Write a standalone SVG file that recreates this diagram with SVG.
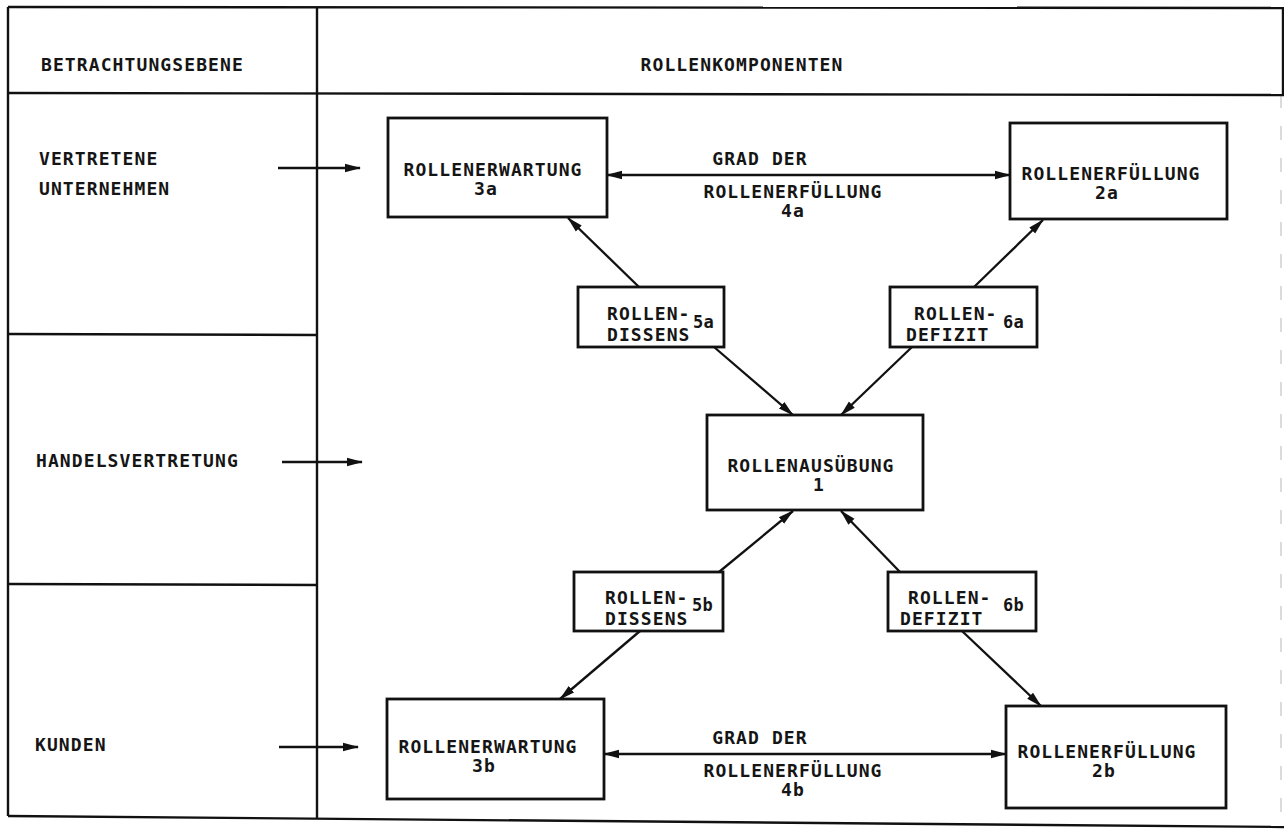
<svg xmlns="http://www.w3.org/2000/svg" width="1284" height="831" viewBox="0 0 1284 831">
<style>
text{font-family:"DejaVu Sans Mono","Liberation Mono",monospace;font-size:18px;font-weight:bold;letter-spacing:1.1px;fill:#151515}
.m{text-anchor:middle}
.sup{font-size:17px;letter-spacing:0.3px}
.box{fill:#fff;stroke:#111;stroke-width:2.8}
.frame{fill:none;stroke:#111;stroke-width:2.4}
.con{fill:none;stroke:#111;stroke-width:2.3}
</style>
<defs>
<marker id="ah" viewBox="0 0 16 10" refX="15" refY="5" markerWidth="16" markerHeight="10" markerUnits="userSpaceOnUse" orient="auto-start-reverse">
<path d="M0,0.8 L16,5 L0,9.2 z" fill="#111"/>
</marker>
</defs>
<g id="frame">
<path class="frame" d="M8,7 L1284,8"/>
<path class="frame" d="M1283,8 L1283,94"/>
<path d="M1281,94 L1281,826" fill="none" stroke="#c4c4c4" stroke-width="1.2" stroke-dasharray="14,18"/>
<path class="frame" d="M8,7 L8,816"/>
<path class="frame" d="M8,816 L1284,827"/>
<path class="frame" d="M317,7 L317,819"/>
<path class="frame" d="M8,93 L1284,95"/>
<path class="frame" d="M8,334 L317,335"/>
<path class="frame" d="M8,584 L317,585"/>
</g>
<g id="headers">
<text x="41" y="71">BETRACHTUNGSEBENE</text>
<text class="m" x="742" y="71">ROLLENKOMPONENTEN</text>
</g>
<g id="levels">
<text x="39" y="165">VERTRETENE</text>
<text x="39" y="195">UNTERNEHMEN</text>
<text x="36" y="467">HANDELSVERTRETUNG</text>
<text x="35" y="751">KUNDEN</text>
</g>
<g id="connectors">
<line class="con" x1="278" y1="168" x2="360" y2="168" marker-end="url(#ah)"/>
<line class="con" x1="282" y1="462" x2="362" y2="462" marker-end="url(#ah)"/>
<line class="con" x1="279" y1="747" x2="358" y2="747" marker-end="url(#ah)"/>
<line class="con" x1="607" y1="175" x2="1010" y2="175" marker-start="url(#ah)" marker-end="url(#ah)"/>
<line class="con" x1="604" y1="754" x2="1006" y2="754" marker-start="url(#ah)" marker-end="url(#ah)"/>
<line class="con" x1="639" y1="287" x2="568" y2="218" marker-end="url(#ah)"/>
<line class="con" x1="714" y1="347" x2="793" y2="415" marker-end="url(#ah)"/>
<line class="con" x1="912" y1="347" x2="841" y2="415" marker-end="url(#ah)"/>
<line class="con" x1="974" y1="287" x2="1043" y2="220" marker-end="url(#ah)"/>
<line class="con" x1="719" y1="572" x2="793" y2="511" marker-end="url(#ah)"/>
<line class="con" x1="900" y1="572" x2="841" y2="511" marker-end="url(#ah)"/>
<line class="con" x1="640" y1="631" x2="560" y2="699" marker-end="url(#ah)"/>
<line class="con" x1="962" y1="631" x2="1041" y2="706" marker-end="url(#ah)"/>
</g>
<g id="grad4a">
<text class="m" x="760" y="165">GRAD DER</text>
<text class="m" x="793" y="198">ROLLENERFÜLLUNG</text>
<text class="m" x="793" y="217">4a</text>
</g>
<g id="grad4b">
<text class="m" x="760" y="744">GRAD DER</text>
<text class="m" x="793" y="777">ROLLENERFÜLLUNG</text>
<text class="m" x="793" y="796">4b</text>
</g>
<g id="n3a">
<rect class="box" x="388" y="118" width="219" height="99"/>
<text class="m" x="493" y="176">ROLLENERWARTUNG</text>
<text class="m" x="486" y="195">3a</text>
</g>
<g id="n2a">
<rect class="box" x="1010" y="123" width="217" height="96"/>
<text class="m" x="1111" y="180">ROLLENERFÜLLUNG</text>
<text class="m" x="1107" y="199">2a</text>
</g>
<g id="n5a">
<rect class="box" x="578" y="287" width="146" height="60"/>
<text x="607" y="320">ROLLEN-</text>
<text x="607" y="341">DISSENS</text>
<text class="sup" x="693" y="328">5a</text>
</g>
<g id="n6a">
<rect class="box" x="890" y="287" width="147" height="60"/>
<text x="914" y="320">ROLLEN-</text>
<text x="906" y="341">DEFIZIT</text>
<text class="sup" x="1003" y="328">6a</text>
</g>
<g id="n1">
<rect class="box" x="707" y="415" width="216" height="95"/>
<text class="m" x="811" y="472">ROLLENAUSÜBUNG</text>
<text class="m" x="819" y="491">1</text>
</g>
<g id="n5b">
<rect class="box" x="574" y="572" width="149" height="59"/>
<text x="605" y="604">ROLLEN-</text>
<text x="605" y="625">DISSENS</text>
<text class="sup" x="692" y="611">5b</text>
</g>
<g id="n6b">
<rect class="box" x="888" y="572" width="148" height="59"/>
<text x="908" y="604">ROLLEN-</text>
<text x="900" y="625">DEFIZIT</text>
<text class="sup" x="1003" y="611">6b</text>
</g>
<g id="n3b">
<rect class="box" x="387" y="699" width="217" height="100"/>
<text class="m" x="488" y="753">ROLLENERWARTUNG</text>
<text class="m" x="484" y="772">3b</text>
</g>
<g id="n2b">
<rect class="box" x="1006" y="706" width="220" height="102"/>
<text class="m" x="1107" y="758">ROLLENERFÜLLUNG</text>
<text class="m" x="1104" y="777">2b</text>
</g>
</svg>
